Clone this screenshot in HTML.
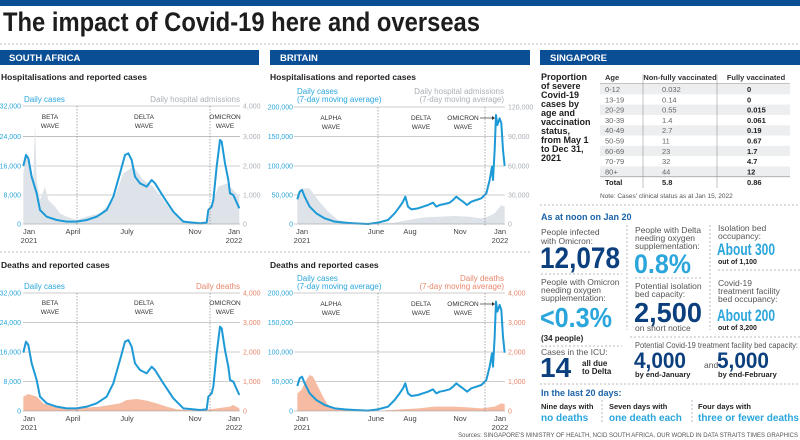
<!DOCTYPE html>
<html><head><meta charset="utf-8"><style>
html,body{margin:0;padding:0;background:#fff;}
svg{display:block;font-family:"Liberation Sans",sans-serif;}
.t8{font-size:8px;}
.tk{font-size:7px;}
.cy{fill:#2aa6dc;}
.gr{fill:#a9b0b6;}
.sa{fill:#e8866a;}
.dk{fill:#222;}
.wv{font-size:6.5px;fill:#333;text-anchor:middle;}
.xl{font-size:7.5px;fill:#444;text-anchor:middle;}
.b{font-weight:bold;}
.nv{fill:#0b3f7e;}
.sm{font-size:8.5px;fill:#555;}
</style></head><body>
<svg width="800" height="440" viewBox="0 0 800 440" xmlns="http://www.w3.org/2000/svg">
<rect x="0" y="0" width="800" height="6" fill="#0a4e96"/>
<text x="3" y="31" font-size="27" font-weight="bold" fill="#1d1d1d" textLength="477" lengthAdjust="spacingAndGlyphs">The impact of Covid-19 here and overseas</text>
<line x1="0" y1="44" x2="800" y2="44" stroke="#bbb" stroke-dasharray="2,2"/>
<line x1="0" y1="252" x2="530" y2="252" stroke="#bbb" stroke-dasharray="2,2"/>

<rect x="0" y="50" width="259" height="15" fill="#0a4e96"/>
<text x="9" y="61" font-size="9.5" font-weight="bold" fill="#fff">SOUTH AFRICA</text>
<rect x="270" y="50" width="260" height="15" fill="#0a4e96"/>
<text x="280" y="61" font-size="9.5" font-weight="bold" fill="#fff">BRITAIN</text>
<rect x="540" y="50" width="260" height="15" fill="#0a4e96"/>
<text x="550" y="61" font-size="9.5" font-weight="bold" fill="#fff">SINGAPORE</text>

<!-- SA chart 1 -->
<text x="1" y="80" font-size="8.5" font-weight="bold" fill="#222">Hospitalisations and reported cases</text>
<text x="24" y="102" class="t8 cy">Daily cases</text>
<text x="240" y="102" class="t8 gr" text-anchor="end">Daily hospital admissions</text>
<g stroke="#999" stroke-width="0.6">
<line x1="23" y1="106" x2="240" y2="106"/><line x1="23" y1="136.7" x2="240" y2="136.7"/><line x1="23" y1="166" x2="240" y2="166"/><line x1="23" y1="195" x2="240" y2="195"/>
</g>
<g transform="translate(0,40) scale(0.33333)">
<path d="M70,553 L70,400 80,340 90,380 100,420 105,250 110,420 120,480 135,440 145,480 155,490 165,500 180,520 200,530 230,540 260,530 300,520 340,480 370,400 400,380 430,420 460,440 490,480 520,520 560,545 620,545 640,480 655,440 680,430 700,450 718,470 718,553Z" fill="#dde3e8"/>
<path d="M70,378 78,345 85,355 95,410 110,460 120,510 140,530 170,540 200,545 230,545 260,540 290,530 320,510 340,470 360,400 375,345 385,340 395,360 405,410 420,430 440,440 455,420 465,430 490,470 520,515 550,545 600,550 620,548 625,510 635,500 640,480 650,380 660,300 665,305 675,370 685,420 690,460 700,465 718,505" fill="none" stroke="#1d9ad6" stroke-width="2" vector-effect="non-scaling-stroke" stroke-linejoin="round"/>
</g>
<line x1="23" y1="224" x2="240" y2="224" stroke="#999" stroke-width="0.6"/>
<line x1="77" y1="106" x2="77" y2="226" stroke="#777" stroke-width="0.6" stroke-dasharray="1.5,1.5"/>
<line x1="210" y1="106" x2="210" y2="226" stroke="#777" stroke-width="0.6" stroke-dasharray="1.5,1.5"/>
<g class="tk cy" text-anchor="end"><text x="21" y="108.5">32,000</text><text x="21" y="139">24,000</text><text x="21" y="168.5">16,000</text><text x="21" y="197.5">8,000</text><text x="21" y="226.5">0</text></g>
<g class="tk gr"><text x="243" y="108.5">4,000</text><text x="243" y="139">3,000</text><text x="243" y="168.5">2,000</text><text x="243" y="197.5">1,000</text><text x="243" y="226.5">0</text></g>
<text class="wv" x="50" y="119">BETA</text><text class="wv" x="50" y="128">WAVE</text>
<text class="wv" x="144" y="119">DELTA</text><text class="wv" x="144" y="128">WAVE</text>
<text class="wv" x="225" y="119">OMICRON</text><text class="wv" x="225" y="128">WAVE</text>
<g class="xl"><text x="29" y="234">Jan</text><text x="29" y="243">2021</text><text x="73" y="234">April</text><text x="127" y="234">July</text><text x="195" y="234">Nov</text><text x="234" y="234">Jan</text><text x="234" y="243">2022</text></g>

<!-- SA chart 2 -->
<text x="1" y="268" font-size="8.5" font-weight="bold" fill="#222">Deaths and reported cases</text>
<text x="24" y="289" class="t8 cy">Daily cases</text>
<text x="240" y="289" class="t8 sa" text-anchor="end">Daily deaths</text>
<g stroke="#999" stroke-width="0.6">
<line x1="23" y1="293" x2="240" y2="293"/><line x1="23" y1="322.5" x2="240" y2="322.5"/><line x1="23" y1="352" x2="240" y2="352"/><line x1="23" y1="381.5" x2="240" y2="381.5"/>
</g>
<g transform="translate(0,250) scale(0.33333)">
<path d="M70,483 L70,440 85,432 110,440 130,460 160,470 230,475 300,470 360,460 380,450 410,447 440,452 470,460 500,470 530,478 600,482 690,470 700,465 718,475 718,483Z" fill="#f6bba3"/>
</g>
<g transform="translate(0,226.67) scale(0.33333)">
<path d="M70,378 78,345 85,355 95,410 110,460 120,510 140,530 170,540 200,545 230,545 260,540 290,530 320,510 340,470 360,400 375,345 385,340 395,360 405,410 420,430 440,440 455,420 465,430 490,470 520,515 550,545 600,550 620,548 625,510 635,500 640,480 650,380 660,300 665,305 675,370 685,420 690,460 700,465 718,505" fill="none" stroke="#1d9ad6" stroke-width="2" vector-effect="non-scaling-stroke" stroke-linejoin="round"/>
</g>
<line x1="23" y1="411" x2="240" y2="411" stroke="#999" stroke-width="0.6"/>
<line x1="77" y1="293" x2="77" y2="413" stroke="#777" stroke-width="0.6" stroke-dasharray="1.5,1.5"/>
<line x1="210" y1="293" x2="210" y2="413" stroke="#777" stroke-width="0.6" stroke-dasharray="1.5,1.5"/>
<g class="tk cy" text-anchor="end"><text x="21" y="295.5">32,000</text><text x="21" y="325">24,000</text><text x="21" y="354.5">16,000</text><text x="21" y="384">8,000</text><text x="21" y="413.5">0</text></g>
<g class="tk sa"><text x="243" y="295.5">4,000</text><text x="243" y="325">3,000</text><text x="243" y="354.5">2,000</text><text x="243" y="384">1,000</text><text x="243" y="413.5">0</text></g>
<text class="wv" x="50" y="305">BETA</text><text class="wv" x="50" y="314">WAVE</text>
<text class="wv" x="144" y="305">DELTA</text><text class="wv" x="144" y="314">WAVE</text>
<text class="wv" x="225" y="305">OMICRON</text><text class="wv" x="225" y="314">WAVE</text>
<g class="xl"><text x="29" y="421">Jan</text><text x="29" y="430">2021</text><text x="73" y="421">April</text><text x="127" y="421">July</text><text x="195" y="421">Nov</text><text x="234" y="421">Jan</text><text x="234" y="430">2022</text></g>

<!-- BRITAIN chart 1 -->
<text x="270" y="80" font-size="8.5" font-weight="bold" fill="#222">Hospitalisations and reported cases</text>
<text x="297" y="94" class="t8 cy">Daily cases</text><text x="297" y="102" class="t8 cy">(7-day moving average)</text>
<text x="504" y="94" class="t8 gr" text-anchor="end">Daily hospital admissions</text><text x="504" y="102" class="t8 gr" text-anchor="end">(7-day moving average)</text>
<g stroke="#999" stroke-width="0.6">
<line x1="294" y1="107" x2="505" y2="107"/><line x1="294" y1="136.5" x2="505" y2="136.5"/><line x1="294" y1="166" x2="505" y2="166"/><line x1="294" y1="195" x2="505" y2="195"/>
</g>
<g transform="translate(268,40) scale(0.33333)">
<path d="M88,553 L88,460 100,445 125,445 150,480 180,515 210,540 260,550 330,550 380,548 420,540 470,532 520,530 560,528 600,530 640,535 660,530 680,520 700,495 710,500 710,553Z" fill="#dde3e8"/>
<path d="M88,478 95,455 102,450 110,470 125,500 145,520 170,535 200,545 230,548 260,550 300,552 330,548 360,540 380,520 395,500 405,485 412,470 420,500 430,508 450,505 465,500 480,495 495,488 505,500 515,495 530,492 545,488 555,480 565,470 575,478 585,485 597,495 610,485 625,480 640,475 655,460 665,420 672,380 675,420 680,330 684,225 688,255 695,235 700,250 705,330 710,378" fill="none" stroke="#1d9ad6" stroke-width="2" vector-effect="non-scaling-stroke" stroke-linejoin="round"/>
</g>
<line x1="294" y1="224" x2="505" y2="224" stroke="#999" stroke-width="0.6"/>
<line x1="378" y1="107" x2="378" y2="226" stroke="#777" stroke-width="0.6" stroke-dasharray="1.5,1.5"/>
<line x1="485" y1="107" x2="485" y2="226" stroke="#777" stroke-width="0.6" stroke-dasharray="1.5,1.5"/>
<g class="tk cy" text-anchor="end"><text x="293" y="109.5">200,000</text><text x="293" y="139">150,000</text><text x="293" y="168.5">100,000</text><text x="293" y="197.5">50,000</text><text x="293" y="226.5">0</text></g>
<g class="tk gr"><text x="508" y="109.5">120,000</text><text x="508" y="139">90,000</text><text x="508" y="168.5">60,000</text><text x="508" y="197.5">30,000</text><text x="508" y="226.5">0</text></g>
<text class="wv" x="331" y="120">ALPHA</text><text class="wv" x="331" y="129">WAVE</text>
<text class="wv" x="421" y="120">DELTA</text><text class="wv" x="421" y="129">WAVE</text>
<text class="wv" x="463" y="120">OMICRON</text><text class="wv" x="463" y="129">WAVE</text>
<line x1="480" y1="118" x2="492" y2="118" stroke="#333" stroke-width="0.7"/><path d="M492,116 L495,118 492,120Z" fill="#333"/>
<g class="xl"><text x="302" y="234">Jan</text><text x="302" y="243">2021</text><text x="376" y="234">June</text><text x="410" y="234">Aug</text><text x="460" y="234">Nov</text><text x="500" y="234">Jan</text><text x="500" y="243">2022</text></g>

<!-- BRITAIN chart 2 -->
<text x="270" y="268" font-size="8.5" font-weight="bold" fill="#222">Deaths and reported cases</text>
<text x="297" y="281" class="t8 cy">Daily cases</text><text x="297" y="289" class="t8 cy">(7-day moving average)</text>
<text x="504" y="281" class="t8 sa" text-anchor="end">Daily deaths</text><text x="504" y="289" class="t8 sa" text-anchor="end">(7-day moving average)</text>
<g stroke="#999" stroke-width="0.6">
<line x1="294" y1="293" x2="505" y2="293"/><line x1="294" y1="322.5" x2="505" y2="322.5"/><line x1="294" y1="352" x2="505" y2="352"/><line x1="294" y1="381.5" x2="505" y2="381.5"/>
</g>
<g transform="translate(268,250) scale(0.33333)">
<path d="M88,483 L88,430 100,420 115,390 125,375 135,380 150,410 165,440 180,465 200,475 260,480 330,483 400,478 450,475 500,470 560,470 600,472 640,475 680,470 700,460 710,462 710,483Z" fill="#f6bba3"/>
</g>
<g transform="translate(268,226.67) scale(0.33333)">
<path d="M88,478 95,455 102,450 110,470 125,500 145,520 170,535 200,545 230,548 260,550 300,552 330,548 360,540 380,520 395,500 405,485 412,470 420,500 430,508 450,505 465,500 480,495 495,488 505,500 515,495 530,492 545,488 555,480 565,470 575,478 585,485 597,495 610,485 625,480 640,475 655,460 665,420 672,380 675,420 680,330 684,225 688,255 695,235 700,250 705,330 710,378" fill="none" stroke="#1d9ad6" stroke-width="2" vector-effect="non-scaling-stroke" stroke-linejoin="round"/>
</g>
<line x1="294" y1="411" x2="505" y2="411" stroke="#999" stroke-width="0.6"/>
<line x1="378" y1="293" x2="378" y2="413" stroke="#777" stroke-width="0.6" stroke-dasharray="1.5,1.5"/>
<line x1="485" y1="293" x2="485" y2="413" stroke="#777" stroke-width="0.6" stroke-dasharray="1.5,1.5"/>
<g class="tk cy" text-anchor="end"><text x="293" y="295.5">200,000</text><text x="293" y="325">150,000</text><text x="293" y="354.5">100,000</text><text x="293" y="384">50,000</text><text x="293" y="413.5">0</text></g>
<g class="tk sa"><text x="508" y="295.5">4,000</text><text x="508" y="325">3,000</text><text x="508" y="354.5">2,000</text><text x="508" y="384">1,000</text><text x="508" y="413.5">0</text></g>
<text class="wv" x="331" y="306">ALPHA</text><text class="wv" x="331" y="315">WAVE</text>
<text class="wv" x="421" y="306">DELTA</text><text class="wv" x="421" y="315">WAVE</text>
<text class="wv" x="463" y="306">OMICRON</text><text class="wv" x="463" y="315">WAVE</text>
<line x1="480" y1="304" x2="492" y2="304" stroke="#333" stroke-width="0.7"/><path d="M492,302 L495,304 492,306Z" fill="#333"/>
<g class="xl"><text x="302" y="421">Jan</text><text x="302" y="430">2021</text><text x="376" y="421">June</text><text x="410" y="421">Aug</text><text x="460" y="421">Nov</text><text x="500" y="421">Jan</text><text x="500" y="430">2022</text></g>

<!-- SINGAPORE -->
<g font-size="9" font-weight="bold" fill="#1d1d1d">
<text x="541" y="80">Proportion</text><text x="541" y="89">of severe</text><text x="541" y="98">Covid-19</text><text x="541" y="107">cases by</text><text x="541" y="116">age and</text><text x="541" y="125">vaccination</text><text x="541" y="134">status,</text><text x="541" y="143">from May 1</text><text x="541" y="152">to Dec 31,</text><text x="541" y="161">2021</text>
</g>
<g fill="#eceef0">
<rect x="600" y="84" width="190" height="10.3"/><rect x="600" y="104.6" width="190" height="10.3"/><rect x="600" y="125.2" width="190" height="10.3"/><rect x="600" y="145.8" width="190" height="10.3"/><rect x="600" y="166.4" width="190" height="10.3"/>
</g>
<line x1="600" y1="83.5" x2="790" y2="83.5" stroke="#888" stroke-width="0.6"/>
<line x1="600" y1="176.8" x2="790" y2="176.8" stroke="#888" stroke-width="0.6"/>
<line x1="643" y1="74" x2="643" y2="188" stroke="#888" stroke-width="0.5"/>
<line x1="717" y1="74" x2="717" y2="188" stroke="#888" stroke-width="0.5"/>
<g font-size="7.5" font-weight="bold" fill="#333"><text x="605" y="80">Age</text><text x="680" y="80" text-anchor="middle">Non-fully vaccinated</text><text x="756" y="80" text-anchor="middle">Fully vaccinated</text></g>
<g font-size="7.5" fill="#666">
<text x="605" y="92">0-12</text><text x="605" y="102.3">13-19</text><text x="605" y="112.6">20-29</text><text x="605" y="122.9">30-39</text><text x="605" y="133.2">40-49</text><text x="605" y="143.5">50-59</text><text x="605" y="153.8">60-69</text><text x="605" y="164.1">70-79</text><text x="605" y="174.4">80+</text>
<text x="662" y="92">0.032</text><text x="662" y="102.3">0.14</text><text x="662" y="112.6">0.55</text><text x="662" y="122.9">1.4</text><text x="662" y="133.2">2.7</text><text x="662" y="143.5">11</text><text x="662" y="153.8">23</text><text x="662" y="164.1">32</text><text x="662" y="174.4">44</text>
</g>
<g font-size="7.5" font-weight="bold" fill="#222">
<text x="747" y="92">0</text><text x="747" y="102.3">0</text><text x="747" y="112.6">0.015</text><text x="747" y="122.9">0.061</text><text x="747" y="133.2">0.19</text><text x="747" y="143.5">0.67</text><text x="747" y="153.8">1.7</text><text x="747" y="164.1">4.7</text><text x="747" y="174.4">12</text>
<text x="605" y="185">Total</text><text x="662" y="185">5.8</text><text x="747" y="185">0.86</text>
</g>
<text x="600" y="198" font-size="6.5" fill="#555">Note: Cases' clinical status as at Jan 15, 2022</text>
<line x1="540" y1="205" x2="800" y2="205" stroke="#bbb" stroke-dasharray="2,2"/>

<text x="541" y="220" font-size="9" font-weight="bold" fill="#1a63a8">As at noon on Jan 20</text>
<g class="sm"><text x="541" y="235">People infected</text><text x="541" y="244">with Omicron:</text></g>
<text x="540" y="268" font-size="30" font-weight="bold" class="nv" textLength="80" lengthAdjust="spacingAndGlyphs">12,078</text>
<line x1="541" y1="274" x2="622" y2="274" stroke="#bbb" stroke-dasharray="2,2"/>
<g class="sm"><text x="541" y="285">People with Omicron</text><text x="541" y="293">needing oxygen</text><text x="541" y="301">supplementation:</text></g>
<text x="540" y="327" font-size="28" font-weight="bold" fill="#2aa6dc" textLength="72" lengthAdjust="spacingAndGlyphs">&lt;0.3%</text>
<text x="541" y="341" font-size="8" font-weight="bold" fill="#222">(34 people)</text>
<line x1="541" y1="346" x2="622" y2="346" stroke="#bbb" stroke-dasharray="2,2"/>
<text x="541" y="355" class="sm">Cases in the ICU:</text>
<text x="540" y="377" font-size="28" font-weight="bold" class="nv">14</text>
<text x="582" y="366" font-size="8" font-weight="bold" fill="#222">all due</text><text x="582" y="374" font-size="8" font-weight="bold" fill="#222">to Delta</text>
<line x1="627" y1="225" x2="627" y2="330" stroke="#bbb" stroke-dasharray="2,2"/>
<g class="sm"><text x="635" y="233">People with Delta</text><text x="635" y="241">needing oxygen</text><text x="635" y="249">supplementation:</text></g>
<text x="634" y="273" font-size="27" font-weight="bold" fill="#2aa6dc" textLength="57" lengthAdjust="spacingAndGlyphs">0.8%</text>
<line x1="635" y1="278" x2="702" y2="278" stroke="#bbb" stroke-dasharray="2,2"/>
<g class="sm"><text x="635" y="289">Potential isolation</text><text x="635" y="297">bed capacity:</text></g>
<text x="634" y="322" font-size="28" font-weight="bold" class="nv" textLength="68" lengthAdjust="spacingAndGlyphs">2,500</text>
<text x="635" y="331" class="sm">on short notice</text>
<line x1="710" y1="225" x2="710" y2="330" stroke="#bbb" stroke-dasharray="2,2"/>
<g class="sm"><text x="718" y="231">Isolation bed</text><text x="718" y="239">occupancy:</text></g>
<text x="717" y="255" font-size="17" font-weight="bold" fill="#2aa6dc" textLength="58" lengthAdjust="spacingAndGlyphs">About 300</text>
<text x="718" y="264" font-size="7" font-weight="bold" fill="#222">out of 1,100</text>
<line x1="718" y1="270" x2="800" y2="270" stroke="#bbb" stroke-dasharray="2,2"/>
<g class="sm"><text x="718" y="286">Covid-19</text><text x="718" y="294">treatment facility</text><text x="718" y="302">bed occupancy:</text></g>
<text x="717" y="321" font-size="17" font-weight="bold" fill="#2aa6dc" textLength="58" lengthAdjust="spacingAndGlyphs">About 200</text>
<text x="718" y="330" font-size="7" font-weight="bold" fill="#222">out of 3,200</text>
<line x1="630" y1="337" x2="800" y2="337" stroke="#bbb" stroke-dasharray="2,2"/>
<text x="635" y="348" class="sm" textLength="163" lengthAdjust="spacingAndGlyphs">Potential Covid-19 treatment facility bed capacity:</text>
<text x="634" y="368" font-size="22" font-weight="bold" class="nv" textLength="52" lengthAdjust="spacingAndGlyphs">4,000</text>
<text x="635" y="377" font-size="7.5" font-weight="bold" fill="#222">by end-January</text>
<text x="704" y="368" class="sm">and</text>
<text x="717" y="368" font-size="22" font-weight="bold" class="nv" textLength="52" lengthAdjust="spacingAndGlyphs">5,000</text>
<text x="718" y="377" font-size="7.5" font-weight="bold" fill="#222">by end-February</text>
<line x1="540" y1="384" x2="800" y2="384" stroke="#bbb" stroke-dasharray="2,2"/>
<text x="541" y="396" font-size="9" font-weight="bold" fill="#1a63a8">In the last 20 days:</text>
<g font-size="7.5" font-weight="bold" fill="#222"><text x="541" y="409">Nine days with</text><text x="609" y="409">Seven days with</text><text x="698" y="409">Four days with</text></g>
<g font-size="10" font-weight="bold" fill="#2aa6dc"><text x="541" y="421">no deaths</text><text x="609" y="421">one death each</text><text x="698" y="421" textLength="101" lengthAdjust="spacingAndGlyphs">three or fewer deaths</text></g>
<line x1="602" y1="400" x2="602" y2="424" stroke="#bbb" stroke-dasharray="2,2"/>
<line x1="692" y1="400" x2="692" y2="424" stroke="#bbb" stroke-dasharray="2,2"/>
<text x="798" y="437" font-size="6" fill="#555" text-anchor="end">Sources: SINGAPORE'S MINISTRY OF HEALTH, NCID SOUTH AFRICA, OUR WORLD IN DATA   STRAITS TIMES GRAPHICS</text>
</svg>
</body></html>
